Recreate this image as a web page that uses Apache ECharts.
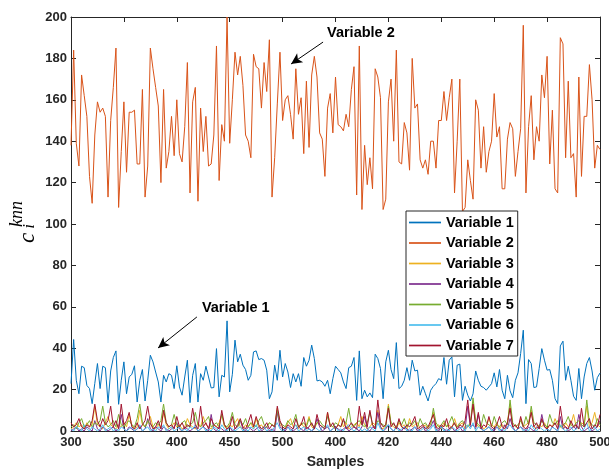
<!DOCTYPE html>
<html><head><meta charset="utf-8">
<script src="https://cdn.jsdelivr.net/npm/echarts@6/dist/echarts.min.js"></script>
<style>html,body{margin:0;padding:0;background:#fff}#c{width:609px;height:471px}</style>
</head><body><div id="c"></div>
<script>
// ---- data ----
const xTickLabels = ['300','350','400','450','500','400','420','440','460','480','500'];
const seriesNames = ['Variable 1','Variable 2','Variable 3','Variable 4','Variable 5','Variable 6','Variable 7'];
const seriesColors = ['#0072BD','#D95319','#EDB120','#7E2F8E','#77AC30','#4DBEEE','#A2142F'];

const var1 = [22.9,44.2,24.5,18,31.3,30.6,22,20.5,13.2,23,32.6,20.5,31.3,30.6,13.5,29,35.5,38.7,12.9,24.5,33.4,18,26.1,27.4,31.5,14,24.5,29.7,14.5,24.5,36.6,33.4,28.5,23.7,14,26.9,23.7,27.7,26.9,20.5,31.5,21.3,17.3,26.1,34.2,13.7,26.9,32.6,14,27.7,24.5,31.3,26.1,20.8,21,39.8,16.5,26.9,26.1,53.2,18.9,27.4,43.9,33.4,37.1,31.8,29.7,24.5,26.9,38.2,38.7,34.5,35,34.2,29.4,15.6,18.9,31.8,24.5,39,26.1,32.6,28.5,21,27.7,23.7,27.7,21.6,35.5,31.3,34.2,41.5,35,24.2,24.5,23.7,21.6,24.5,18,25.3,31.3,
29.7,28.1,23.7,20.5,30.6,31.3,35.5,14.8,38.7,15.6,19.7,16.5,18.4,16.1,37.1,35,30.2,15.6,33.4,39,29.7,25.3,42.7,20.5,21.6,24.5,30.6,24.5,34.2,29,29.4,17.3,21.6,18,14.5,19.7,21.6,22.9,25.3,24.5,35.5,22.6,34.2,35.8,16.5,31.8,32.3,14.8,21.6,17.3,14.5,18,29,24.5,21.6,21,19.7,21.3,22.9,28.1,21.3,29.7,19.7,15.6,26.9,19.4,16.1,24.5,28.1,37.4,48.7,13.2,34.5,32.6,21,21.3,30.2,39.8,34.2,29.4,29.7,24.5,15.6,13.2,41.1,43.4,24.5,31.3,24.5,16.8,14.8,30.2,15.6,26.1,32.6,35.5,29,19.7,25.8,28];

const var2 = [138,184,139,128,172,162,152,123,110,143,159,154,156,152,113,150,166,185,108,135,159,125,154,154,155,129,129,165,113,128,185,175,166,157,120,165,127,135,152,133,160,134,130,147,178,115,159,166,111,156,135,152,128,129,143,186,121,148,140,200,139,160,183,172,181,167,143,140,132,182,176,175,156,178,164,189,113,132,158,183,150,160,162,153,141,175,153,161,134,169,137,172,181,171,144,141,123,156,163,144,171,
148,147,145,153,147,165,176,114,186,107,138,119,132,117,175,171,161,107,112,159,170,140,184,130,129,149,144,126,180,156,158,131,127,131,124,140,140,127,150,150,164,150,161,170,115,140,170,106,108,131,121,112,160,155,127,147,125,135,140,163,142,147,117,117,141,149,146,123,135,146,196,115,147,162,131,147,140,172,161,181,129,155,117,115,190,187,132,169,132,134,113,171,123,152,152,177,160,127,138,136];

const var3 = [1,2,4,2,3,1,4,2,3,12,3,2,1,4,7,3,2,1,3,2,
4,2,8,3,1,2,10,3,2,4,7,2,1,3,2,9,3,1,2,4,
2,3,1,2,6,3,2,1,4,2,7,3,2,1,3,2,4,8,2,1,
3,2,4,6,2,1,3,2,4,1,6,2,3,1,2,4,3,2,11,3,
2,1,4,6,2,3,1,4,2,3,7,2,1,4,3,2,1,9,3,2,
1,3,7,2,4,1,2,3,4,2,7,3,1,2,4,3,10,2,1,3,
13,3,2,1,4,2,3,1,6,2,3,4,1,2,3,1,4,9,2,3,
1,4,2,3,1,6,2,3,4,1,2,3,14,4,2,3,1,2,6,3,
2,4,1,3,2,4,13,2,3,1,6,2,3,4,10,2,1,3,2,4,
1,3,2,6,3,2,1,4,2,3,8,2,1,4,3,12,2,4,9,3,2];

const var4 = [0,1,2,0,1,0,2,1,0,5,1,0,2,1,0,1,2,0,1,8,
1,0,2,1,0,1,2,0,1,6,1,0,2,1,0,2,1,0,1,2,
4,1,0,2,1,0,1,2,0,1,2,1,0,8,1,0,2,1,0,1,
2,0,1,2,5,1,0,2,1,0,1,2,0,1,2,0,1,0,9,2,
1,0,2,1,0,1,2,1,0,2,1,0,1,6,2,0,1,2,0,1,
2,1,0,1,2,0,1,2,1,0,2,7,1,0,2,1,9,2,0,1,
3,1,0,2,1,0,2,1,0,1,2,0,1,2,0,1,2,5,1,0,
2,1,0,1,2,0,1,2,0,1,12,2,3,1,8,2,0,1,2,1,
0,2,1,0,3,1,6,2,0,1,2,1,0,2,1,0,2,1,8,2,
1,0,2,1,0,7,1,2,0,1,2,1,8,2,0,1,2,0,1,2,5];

const var5 = [2,3,1,4,6,2,3,5,2,4,3,5,12,4,2,3,5,2,8,3,
2,4,5,3,2,6,13,4,2,5,3,2,4,3,5,13,4,2,3,8,
3,2,4,5,2,3,4,9,3,2,4,5,7,2,3,4,2,8,3,2,
4,9,3,2,5,3,6,2,4,3,2,5,7,3,2,4,3,2,10,4,
3,2,5,3,4,8,2,3,4,2,6,3,2,4,5,3,2,7,3,2,
4,3,2,5,4,11,3,2,4,5,3,2,4,9,3,2,5,4,3,2,
12,4,3,2,5,3,6,2,4,3,5,2,6,3,4,2,3,11,4,2,
3,5,2,4,7,3,2,4,5,3,2,4,16,5,3,2,8,4,3,2,
7,3,2,4,5,3,15,4,2,3,5,2,7,3,12,4,3,2,5,3,
2,8,4,3,5,2,3,4,7,3,2,4,5,3,2,15,4,3,2,6,3];

const var6 = [1,0,2,1,0,3,1,0,2,1,0,1,3,0,1,2,0,1,0,2,
1,0,1,2,0,1,3,0,1,2,0,1,0,2,1,3,0,1,2,0,
1,2,0,1,0,2,1,3,0,1,2,0,1,0,2,1,0,3,1,0,
2,1,0,1,2,0,1,0,2,1,3,0,1,2,0,1,0,2,4,1,
0,1,2,0,1,3,0,1,2,0,1,0,2,1,0,2,1,3,0,1,
2,0,1,0,2,3,1,0,1,2,0,1,0,2,1,0,4,1,0,2,
3,1,0,2,0,1,2,0,1,0,2,1,0,1,2,0,1,3,0,1,
2,0,1,0,2,1,0,1,2,0,3,1,4,0,2,1,0,1,2,0,
1,2,0,1,0,2,3,1,0,1,2,0,1,0,3,1,0,2,1,0,
1,0,2,1,0,3,1,0,1,2,0,1,2,0,1,4,0,1,2,0,1];

const var7 = [4,2,3,6,2,1,3,2,5,13,5,2,6,3,5,12,2,5,1,13,
3,5,9,2,1,4,1,3,5,12,4,1,2,5,1,10,4,2,3,1,
7,2,4,1,3,2,11,3,1,12,2,4,1,6,3,2,1,10,3,1,
2,7,1,3,6,2,1,4,8,2,7,3,1,2,4,1,3,2,12,5,
2,1,3,2,1,6,2,3,7,1,2,4,1,8,3,2,1,9,2,4,
1,3,2,6,1,2,4,2,1,12,3,9,2,10,3,1,15,4,2,3,
11,2,4,1,6,2,1,3,2,4,7,1,2,3,1,2,5,8,2,1,
3,2,6,1,2,4,1,3,2,5,15,3,13,2,9,1,3,2,7,2,
1,3,7,2,1,4,11,2,3,1,7,2,1,3,9,2,4,1,6,2,
1,3,2,4,1,12,3,2,1,5,2,3,1,11,2,4,6,1,3,2,8];

const allValues = [var1, var2, var3, var4, var5, var6, var7];

// ---- chart ----
const FONT = 'Liberation Sans, Arial, Helvetica, sans-serif';
const AX = '#262626';
const chart = echarts.init(document.getElementById('c'), null, {renderer: 'canvas'});

const axisCommon = {
  type: 'value', min: 0, max: 200, interval: 20,
  axisLine: {show: true, onZero: false, lineStyle: {color: AX, width: 1}},
  axisTick: {show: true, inside: true, length: 5, lineStyle: {color: AX, width: 1}},
  splitLine: {show: false}
};

const series = allValues.map((vals, k) => ({
  name: seriesNames[k],
  type: 'line',
  xAxisIndex: 0, yAxisIndex: 0,
  data: vals.map((v, i) => [i, v]),
  symbol: 'none',
  lineStyle: {width: 1, color: seriesColors[k]},
  itemStyle: {color: seriesColors[k]},
  clip: true,
  z: 2 + k
}));

const annoLabel = {fontFamily: FONT, fontWeight: 'bold', fontSize: 14.5, color: '#000'};
const arrowStyle = {silent: true, symbol: ['none', 'arrow'], symbolSize: [8, 11],
  lineStyle: {color: '#000', width: 1, type: 'solid'}, label: {show: false}, animation: false};

series[1].markLine = Object.assign({}, arrowStyle, {data: [[{coord: [95.3, 187.9]}, {coord: [83.2, 177.3]}]]});
series[1].markPoint = {silent: true, animation: false, data: [{coord: [96.8, 192.3], symbol: 'rect', symbolSize: 0,
  label: Object.assign({show: true, position: 'right', distance: 0, formatter: 'Variable 2'}, annoLabel)}]};
series[0].markLine = Object.assign({}, arrowStyle, {data: [[{coord: [47.6, 55.1]}, {coord: [32.9, 40.1]}]]});
series[0].markPoint = {silent: true, animation: false, data: [{coord: [49.5, 59.4], symbol: 'rect', symbolSize: 0,
  label: Object.assign({show: true, position: 'right', distance: 0, formatter: 'Variable 1'}, annoLabel)}]};

const mathFont = 'Liberation Serif, DejaVu Serif, serif';

chart.setOption({
  animation: false,
  backgroundColor: '#fff',
  grid: {left: 71, right: 9, top: 17, bottom: 40, containLabel: false, outerBoundsMode: 'none'},
  xAxis: [
    Object.assign({}, axisCommon, {position: 'bottom',
      axisLabel: {show: true, margin: 5, fontFamily: FONT, fontWeight: 'bold', fontSize: 13, color: AX,
        formatter: v => xTickLabels[Math.round(v / 20)]},
      name: 'Samples', nameLocation: 'middle', nameGap: 24,
      nameTextStyle: {fontFamily: FONT, fontWeight: 'bold', fontSize: 14, color: AX}}),
    Object.assign({}, axisCommon, {position: 'top', axisLabel: {show: false}})
  ],
  yAxis: [
    Object.assign({}, axisCommon, {position: 'left',
      axisLabel: {show: true, margin: 4, fontFamily: FONT, fontWeight: 'bold', fontSize: 13, color: AX}}),
    Object.assign({}, axisCommon, {position: 'right', axisLabel: {show: false}})
  ],
  legend: {
    show: true, orient: 'vertical', left: 406, top: 211,
    itemWidth: 32, itemHeight: 14, itemGap: 5.5,
    padding: [4, 4, 3, 3],
    icon: 'path://M0,0H32V1.7H0Z',
    backgroundColor: '#fff', borderColor: AX, borderWidth: 1, borderRadius: 0,
    textStyle: {fontFamily: FONT, fontWeight: 'bold', fontSize: 14.5, color: '#000', lineHeight: 14},
    data: seriesNames
  },
  graphic: [
    {type: 'text', x: 27.5, y: 238, rotation: Math.PI / 2,
     style: {text: 'c', font: 'italic 23px ' + mathFont, fill: '#000', align: 'center', verticalAlign: 'middle'}},
    {type: 'text', x: 17, y: 214, rotation: Math.PI / 2,
     style: {text: 'knn', font: 'italic 18px ' + mathFont, fill: '#000', align: 'center', verticalAlign: 'middle'}},
    {type: 'text', x: 30, y: 226.5, rotation: Math.PI / 2,
     style: {text: 'i', font: 'italic 17px ' + mathFont, fill: '#000', align: 'center', verticalAlign: 'middle'}}
  ],
  series: series
});
</script>
</body></html>
